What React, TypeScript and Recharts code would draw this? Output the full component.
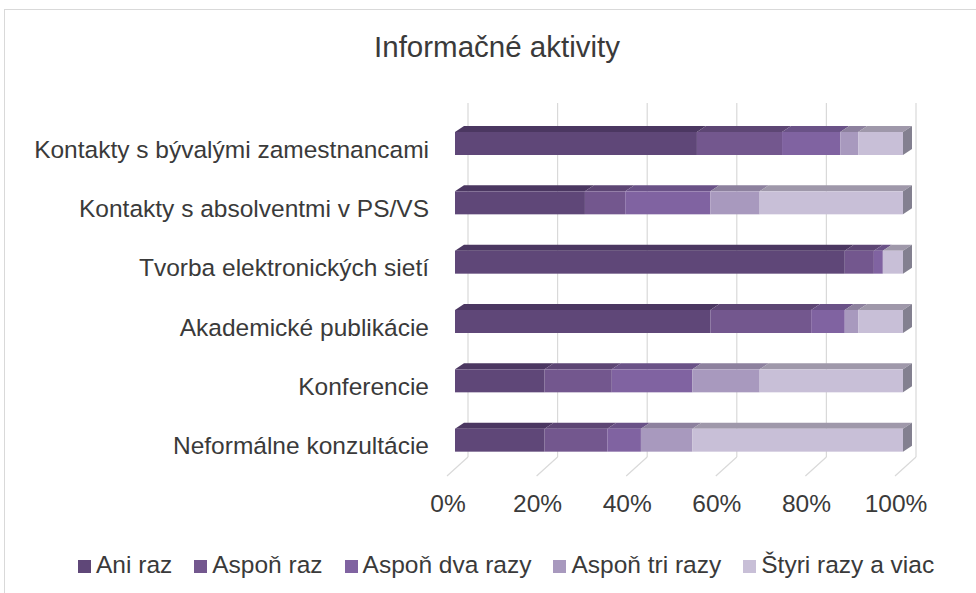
import React from "react";
import { BarChart, Bar, XAxis, YAxis, CartesianGrid } from "recharts";

const categories = [
  "Kontakty s bývalými zamestnancami",
  "Kontakty s absolventmi v PS/VS",
  "Tvorba elektronických sietí",
  "Akademické publikácie",
  "Konferencie",
  "Neformálne konzultácie",
];

const seriesNames = ["Ani raz", "Aspoň raz", "Aspoň dva razy", "Aspoň tri razy", "Štyri razy a viac"];

const aniRaz = [54, 29, 87, 57, 20, 20];
const asponRaz = [19, 9, 6.5, 22.5, 15, 14];
const asponDva = [13, 19, 2, 7.5, 18, 7.5];
const asponTri = [4, 11, 0, 3, 15, 11.5];
const styriViac = [10, 32, 4.5, 10, 32, 47];

const xTicks = [0, 20, 40, 60, 80, 100];

const frontColors = ["#5f4778", "#73578e", "#8063a1", "#a899be", "#c8bfd7"];
const topColors = ["#4b3761", "#5d4674", "#6a5287", "#8d819e", "#9f98aa"];
const sideColor = "#838090";

const keys = ["s0", "s1", "s2", "s3", "s4"];
const seriesValues = [aniRaz, asponRaz, asponDva, asponTri, styriViac];

const data = categories.map((name, i) => {
  const row: any = { name };
  keys.forEach((k, j) => {
    row[k] = seriesValues[j][i];
  });
  return row;
});

const FONT = '"Liberation Sans", Arial, sans-serif';
const TEXT = "#3a3a3a";
const DX = 9;
const DY = 6;

const makeShape = (idx: number, last: boolean) => (props: any) => {
  const { x, y, width, height } = props;
  if (!width || width <= 0.01) return <g />;
  const top = `${x},${y} ${x + DX},${y - DY} ${x + width + DX},${y - DY} ${x + width},${y}`;
  const side = `${x + width},${y} ${x + width + DX},${y - DY} ${x + width + DX},${y + height - DY} ${x + width},${y + height}`;
  return (
    <g>
      <polygon points={top} fill={topColors[idx]} />
      {last && <polygon points={side} fill={sideColor} />}
      <rect x={x} y={y} width={width} height={height} fill={frontColors[idx]} />
    </g>
  );
};

const gridLine = (p: any) => {
  const bx = p.x1 + 13;
  const topY = p.y1 - 11;
  const botY = p.y2 - 13;
  const frontY = p.y2 + 6;
  return (
    <g key={`g-${p.index}-${p.x1}`}>
      <line x1={bx} y1={topY} x2={bx} y2={botY} stroke="#d9d9d9" strokeWidth={1.2} />
      <line x1={p.x1 - 8} y1={frontY} x2={bx} y2={botY} stroke="#d9d9d9" strokeWidth={1.2} />
    </g>
  );
};

const XTick = (props: any) => {
  const { x, y, payload } = props;
  return (
    <text x={x - 7} y={y + 34} textAnchor="middle" fontFamily={FONT} fontSize={24.5} fill={TEXT}>
      {`${payload.value}%`}
    </text>
  );
};

const YTick = (props: any) => {
  const { x, y, payload } = props;
  return (
    <text x={x - 18} y={y + 14} textAnchor="end" fontFamily={FONT} fontSize={24.5} fill={TEXT}>
      {payload.value}
    </text>
  );
};

export default function App() {
  return (
    <div
      style={{
        position: "absolute",
        left: 0,
        top: 0,
        width: 976,
        height: 593,
        background: "#ffffff",
        overflow: "hidden",
        fontFamily: FONT,
      }}
    >
      <div
        style={{
          position: "absolute",
          left: 4,
          top: 9,
          width: 1000,
          height: 700,
          border: "1px solid #d9d9d9",
          boxSizing: "border-box",
        }}
      />
      <div
        style={{
          position: "absolute",
          left: 297,
          top: 32,
          width: 400,
          textAlign: "center",
          fontSize: 29.5,
          lineHeight: 1,
          color: TEXT,
          whiteSpace: "nowrap",
        }}
      >
        Informačné aktivity
      </div>
      <div style={{ position: "absolute", left: 0, top: 0 }}>
        <BarChart
          width={976}
          height={593}
          data={data}
          layout="vertical"
          margin={{ top: 114, right: 73, bottom: 73, left: 0 }}
          barSize={23}
        >
          <CartesianGrid horizontal={false} vertical={gridLine} />
          <XAxis
            type="number"
            domain={[0, 100]}
            ticks={xTicks}
            axisLine={false}
            tickLine={false}
            height={50}
            tick={<XTick />}
            interval={0}
          />
          <YAxis
            type="category"
            dataKey="name"
            width={455}
            axisLine={false}
            tickLine={false}
            tick={<YTick />}
            interval={0}
          />
          {keys.map((k, j) => (
            <Bar
              key={k}
              dataKey={k}
              name={seriesNames[j]}
              stackId="a"
              fill={frontColors[j]}
              isAnimationActive={false}
              shape={makeShape(j, j === keys.length - 1)}
            />
          ))}
        </BarChart>
      </div>
      <div
        style={{
          position: "absolute",
          left: 78,
          top: 553,
          display: "flex",
          alignItems: "center",
          fontSize: 24.5,
          lineHeight: 1,
          color: TEXT,
          whiteSpace: "nowrap",
        }}
      >
        {seriesNames.map((n, j) => (
          <div key={n} style={{ display: "flex", alignItems: "center", marginRight: 22 }}>
            <span
              style={{
                display: "inline-block",
                width: 13,
                height: 13,
                background: frontColors[j],
                marginRight: 5,
                marginTop: 3,
              }}
            />
            <span>{n}</span>
          </div>
        ))}
      </div>
    </div>
  );
}
